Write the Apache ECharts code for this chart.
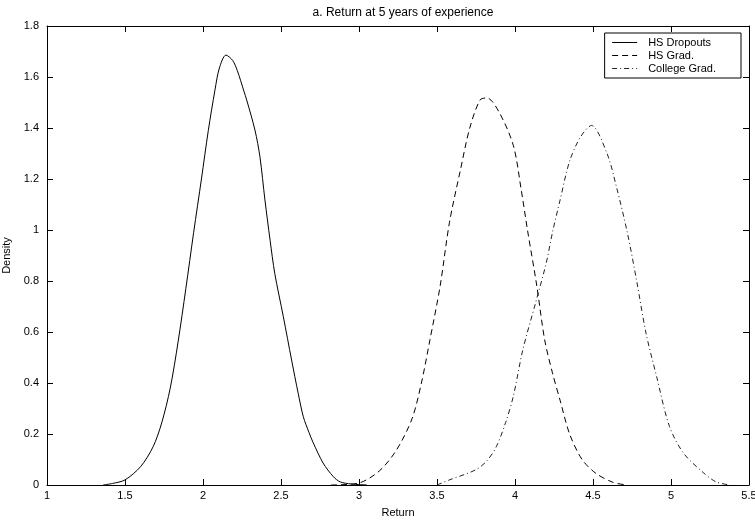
<!DOCTYPE html>
<html>
<head>
<meta charset="utf-8">
<script src="https://cdn.jsdelivr.net/npm/echarts@6/dist/echarts.min.js"></script>
<style>html,body{margin:0;padding:0;background:#fff;}#c{width:755px;height:522px;}</style>
</head>
<body>
<div id="c"></div>
<script>
const titleText = "a. Return at 5 years of experience";
const seriesNames = ["HS Dropouts", "HS Grad.", "College Grad."];
const xTicks = [1, 1.5, 2, 2.5, 3, 3.5, 4, 4.5, 5, 5.5];
const yTicks = [0, 0.2, 0.4, 0.6, 0.8, 1, 1.2, 1.4, 1.6, 1.8];

const dropX = [1.36, 1.42, 1.5, 1.6, 1.68, 1.735, 1.79, 1.84, 1.89, 1.94, 1.99, 2.034, 2.077, 2.105, 2.147, 2.19, 2.22, 2.262, 2.28, 2.333, 2.365, 2.397, 2.43, 2.46, 2.515, 2.568, 2.61, 2.643, 2.68, 2.707, 2.77, 2.835, 2.88, 2.95, 3.05];
const dropY = [0.0, 0.006, 0.02, 0.072, 0.15, 0.243, 0.38, 0.56, 0.77, 0.99, 1.20, 1.39, 1.55, 1.635, 1.686, 1.665, 1.625, 1.545, 1.51, 1.392, 1.287, 1.118, 0.96, 0.83, 0.66, 0.49, 0.36, 0.268, 0.205, 0.165, 0.086, 0.033, 0.012, 0.004, 0.0];

const hsX = [2.82, 3.0, 3.13, 3.24, 3.34, 3.40, 3.455, 3.52, 3.58, 3.65, 3.71, 3.776, 3.82, 3.90, 3.99, 4.04, 4.08, 4.14, 4.19, 4.24, 4.29, 4.35, 4.43, 4.52, 4.63, 4.72];
const hsY = [0.0, 0.008, 0.055, 0.137, 0.26, 0.40, 0.57, 0.78, 1.03, 1.235, 1.40, 1.51, 1.518, 1.46, 1.33, 1.157, 1.0, 0.78, 0.57, 0.44, 0.33, 0.20, 0.10, 0.045, 0.01, 0.0];

const colX = [3.5, 3.58, 3.75, 3.82, 3.88, 3.94, 3.99, 4.05, 4.13, 4.20, 4.24, 4.29, 4.35, 4.42, 4.49, 4.59, 4.65, 4.72, 4.78, 4.84, 4.91, 4.99, 5.08, 5.21, 5.29, 5.38];
const colY = [0.0, 0.02, 0.06, 0.095, 0.15, 0.245, 0.35, 0.53, 0.71, 0.87, 0.99, 1.12, 1.27, 1.365, 1.41, 1.30, 1.17, 0.99, 0.80, 0.595, 0.42, 0.23, 0.125, 0.047, 0.012, 0.0];

const FONT = "Liberation Sans";
const pairs = (xs, ys) => xs.map((x, i) => [x, ys[i]]);

const chart = echarts.init(document.getElementById('c'), null, {renderer: 'canvas'});

const baseX = {
  type: 'value', min: xTicks[0], max: xTicks[xTicks.length - 1], interval: 0.5,
  splitLine: {show: false},
  axisLine: {show: true, onZero: false, lineStyle: {color: '#000', width: 1}},
  axisTick: {show: true, inside: true, length: 6, lineStyle: {color: '#000'}}
};
const baseY = {
  type: 'value', min: yTicks[0], max: yTicks[yTicks.length - 1], interval: 0.2,
  splitLine: {show: false},
  axisLine: {show: true, onZero: false, lineStyle: {color: '#000', width: 1}},
  axisTick: {show: true, inside: true, length: 6, lineStyle: {color: '#000'}}
};

chart.setOption({
  animation: false,
  backgroundColor: '#fff',
  title: {
    text: titleText, left: 398, top: 2, textAlign: 'center',
    textStyle: {fontFamily: FONT, fontSize: 12, fontWeight: 'normal', color: '#000'}
  },
  grid: {left: 47, right: 6, top: 26, bottom: 37, containLabel: false, outerBoundsMode: 'none'},
  legend: {
    orient: 'vertical', right: 14, top: 33,
    backgroundColor: '#fff', borderColor: '#000', borderWidth: 1,
    padding: [4, 25, 4, 7], itemGap: 2, itemWidth: 25, itemHeight: 11,
    itemStyle: {opacity: 0},
    lineStyle: {width: 1},
    textStyle: {fontFamily: FONT, fontSize: 11, color: '#000', padding: [0, 0, 0, 6]},
    data: seriesNames
  },
  xAxis: [
    Object.assign({}, baseX, {
      position: 'bottom', name: 'Return', nameLocation: 'middle', nameGap: 22,
      nameTextStyle: {fontFamily: FONT, fontSize: 11, color: '#000'},
      axisLabel: {fontFamily: FONT, fontSize: 11, color: '#000', margin: 5, formatter: v => String(v)}
    }),
    Object.assign({}, baseX, {position: 'top', axisLabel: {show: false}})
  ],
  yAxis: [
    Object.assign({}, baseY, {
      position: 'left', name: 'Density', nameLocation: 'middle', nameGap: 32, nameRotate: 90,
      nameTextStyle: {fontFamily: FONT, fontSize: 11, color: '#000'},
      axisLabel: {fontFamily: FONT, fontSize: 11, color: '#000', margin: 8, formatter: v => String(Math.round(v * 10) / 10)}
    }),
    Object.assign({}, baseY, {position: 'right', axisLabel: {show: false}})
  ],
  series: [
    {name: seriesNames[0], type: 'line', data: pairs(dropX, dropY), symbol: 'none', smooth: 0.3,
     lineStyle: {color: '#000', width: 1, type: 'solid'}, itemStyle: {color: '#000'}},
    {name: seriesNames[1], type: 'line', data: pairs(hsX, hsY), symbol: 'none', smooth: 0.3,
     lineStyle: {color: '#000', width: 1, type: [6, 4]}, itemStyle: {color: '#000'}},
    {name: seriesNames[2], type: 'line', data: pairs(colX, colY), symbol: 'none', smooth: 0.3,
     lineStyle: {color: '#222', width: 1, type: [5, 3, 1, 3]}, itemStyle: {color: '#000'}}
  ]
});
</script>
</body>
</html>
